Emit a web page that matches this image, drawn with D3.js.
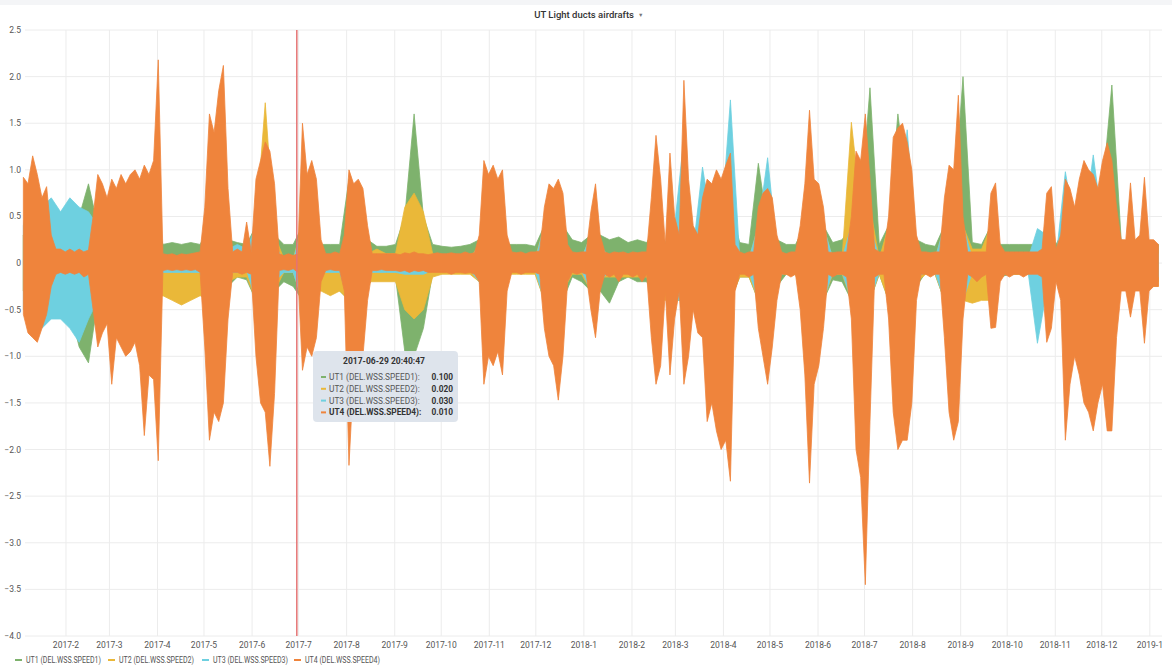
<!DOCTYPE html>
<html>
<head>
<meta charset="utf-8">
<script src="https://cdn.jsdelivr.net/npm/d3@7"></script>
<style>
  body { margin: 0; background: #fff; }
  svg { display: block; font-family: Roboto, "Helvetica Neue", Arial, sans-serif; }
</style>
</head>
<body>
<svg id="chart"></svg>
<script>
// panel title and series names
const title = "UT Light ducts airdrafts";
const seriesNames = ["UT1 (DEL.WSS.SPEED1)", "UT2 (DEL.WSS.SPEED2)", "UT3 (DEL.WSS.SPEED3)", "UT4 (DEL.WSS.SPEED4)"];
const seriesColors = ["#7eb26d", "#eab839", "#6ed0e0", "#ef843c"];
const yTicks = [2.5, 2.0, 1.5, 1.0, 0.5, 0, -0.5, -1.0, -1.5, -2.0, -2.5, -3.0, -3.5, -4.0];

// hover point
const hoverTime = "2017-06-29 20:40:47";
const hoverValues = [0.100, 0.020, 0.030, 0.010];

// UT4: max / min of each 3 day bucket, first bucket 2017-01-04
const ut4Hi = [
  0.92,0.85,1.15,0.95,0.7,0.82,0.3,0.15,0.15,0.12,
  0.15,0.12,0.15,0.12,0.14,0.5,0.95,0.85,0.7,0.9,
  0.8,0.95,0.85,0.95,1.0,0.9,1.05,0.95,1.1,2.18,
  0.1,0.09,0.1,0.08,0.1,0.09,0.1,0.11,0.12,0.6,
  1.6,1.4,1.85,2.12,0.8,0.12,0.15,0.12,0.44,0.12,
  0.9,1.1,1.3,1.2,0.85,0.1,0.08,0.1,0.08,0.1,
  1.5,0.95,1.1,0.9,0.25,0.1,0.1,0.12,0.1,0.3,
  1.0,0.85,0.9,0.8,0.4,0.1,0.1,0.1,0.1,0.1,
  0.1,0.09,0.11,0.1,0.12,0.1,0.1,0.09,0.1,0.11,
  0.1,0.1,0.11,0.1,0.1,0.12,0.1,0.11,0.3,1.1,
  0.95,1.05,0.9,1.0,0.3,0.12,0.11,0.12,0.1,0.12,
  0.12,0.13,0.6,0.85,0.8,0.9,0.75,0.2,0.12,0.11,
  0.12,0.12,0.55,0.85,0.3,0.12,0.1,0.12,0.11,0.12,
  0.1,0.12,0.11,0.12,0.12,0.7,1.37,0.9,0.2,1.18,
  0.5,0.3,1.96,0.9,0.4,0.3,0.7,0.9,0.85,1.0,
  0.9,1.05,1.18,0.2,0.12,0.1,0.12,0.12,0.6,0.75,
  0.8,0.7,0.3,0.12,0.1,0.12,0.12,0.4,0.85,1.64,
  0.9,0.85,0.6,0.12,0.11,0.12,0.12,0.12,0.5,1.2,
  1.1,1.6,0.9,0.15,0.12,0.12,0.5,1.35,1.45,1.5,
  1.3,1.0,0.3,0.12,0.12,0.11,0.12,0.12,0.7,1.05,
  1.0,1.8,0.5,0.12,0.12,0.12,0.12,0.12,0.75,0.86,
  0.2,0.12,0.12,0.12,0.12,0.12,0.12,0.12,0.12,0.15,
  0.75,0.82,0.15,0.3,0.9,0.8,0.6,0.9,1.1,1.0,
  0.95,0.8,1.1,1.29,1.1,0.6,0.25,0.25,0.86,0.25,
  0.3,0.92,0.25,0.25,0.2
];
const ut4Lo = [
  -0.55,-0.75,-0.8,-0.85,-0.7,-0.55,-0.25,-0.12,-0.1,-0.12,
  -0.1,-0.12,-0.1,-0.15,-0.12,-0.5,-0.9,-0.75,-0.65,-1.3,
  -0.8,-0.9,-1.0,-0.95,-0.85,-1.1,-1.85,-1.2,-1.25,-2.12,
  -0.08,-0.07,-0.08,-0.07,-0.08,-0.07,-0.08,-0.07,-0.1,-0.9,
  -1.9,-1.6,-1.7,-1.5,-0.6,-0.1,-0.1,-0.12,-0.1,-0.12,
  -1.0,-1.5,-1.6,-2.18,-1.4,-0.08,-0.07,-0.08,-0.06,-0.1,
  -1.15,-0.9,-1.0,-0.8,-0.2,-0.08,-0.07,-0.08,-0.08,-0.3,
  -2.17,-1.2,-1.1,-1.0,-0.4,-0.08,-0.08,-0.07,-0.08,-0.08,
  -0.08,-0.09,-0.08,-0.1,-0.08,-0.09,-0.08,-0.1,-0.1,-0.1,
  -0.1,-0.1,-0.12,-0.1,-0.1,-0.11,-0.1,-0.12,-0.2,-1.3,
  -1.0,-1.1,-0.95,-1.2,-0.3,-0.1,-0.1,-0.12,-0.1,-0.1,
  -0.1,-0.12,-0.7,-1.0,-1.1,-1.47,-1.0,-0.2,-0.1,-0.12,
  -0.1,-0.12,-0.5,-0.8,-0.3,-0.12,-0.15,-0.12,-0.2,-0.12,
  -0.12,-0.15,-0.12,-0.2,-0.12,-0.8,-1.3,-1.1,-0.3,-1.2,
  -0.6,-0.3,-1.3,-1.0,-0.5,-0.75,-0.8,-1.7,-1.5,-1.8,
  -2.0,-1.9,-2.34,-0.3,-0.12,-0.12,-0.15,-0.12,-0.7,-1.0,
  -1.3,-0.9,-0.4,-0.12,-0.12,-0.15,-0.12,-0.5,-1.2,-2.36,
  -1.3,-1.1,-0.7,-0.12,-0.15,-0.12,-0.12,-0.15,-0.6,-2.0,
  -2.3,-3.45,-1.7,-0.15,-0.12,-0.12,-0.6,-1.6,-2.0,-1.9,
  -1.9,-1.5,-0.4,-0.12,-0.12,-0.15,-0.12,-0.12,-0.8,-1.6,
  -1.9,-1.7,-0.6,-0.12,-0.15,-0.2,-0.15,-0.12,-0.7,-0.69,
  -0.2,-0.12,-0.15,-0.12,-0.12,-0.15,-0.12,-0.12,-0.12,-0.15,
  -0.85,-0.7,-0.2,-0.4,-1.9,-1.3,-1.0,-1.2,-1.5,-1.6,
  -1.8,-1.5,-1.3,-1.8,-1.8,-0.8,-0.3,-0.3,-0.58,-0.3,
  -0.3,-0.86,-0.3,-0.25,-0.25
];

// UT1..UT3: max / min of each 6 day bucket, first bucket 2017-01-04
const ut1Hi = [
  0.3,0.5,0.4,0.25,0.3,0.35,0.5,0.85,0.4,0.4,
  0.4,0.4,0.4,0.4,0.6,0.2,0.22,0.2,0.22,0.2,
  0.4,0.4,0.25,0.22,0.2,0.4,0.9,0.3,0.2,0.2,
  0.4,0.4,0.2,0.2,0.2,0.9,0.6,0.25,0.18,0.18,
  0.2,0.5,1.6,0.5,0.2,0.18,0.17,0.18,0.2,0.25,
  0.4,0.4,0.2,0.2,0.2,0.18,0.4,0.4,0.4,0.25,
  0.22,0.3,0.3,0.25,0.28,0.22,0.25,0.22,0.4,0.22,
  0.4,0.4,0.25,0.4,0.4,0.4,0.6,0.22,0.2,1.07,
  0.4,0.25,0.2,0.2,0.4,0.4,0.4,0.22,0.25,0.4,
  0.6,1.88,0.2,0.4,1.6,0.8,0.25,0.2,0.18,0.4,
  0.6,2.0,0.22,0.2,0.4,0.2,0.2,0.2,0.2,0.2,
  0.4,0.2,0.4,0.4,0.6,0.6,0.8,1.91,0.25,0.22,
  0.22,0.2,0.2
];
const ut1Lo = [
  -0.3,-0.4,-0.4,-0.3,-0.4,-0.5,-0.9,-1.07,-0.4,-0.4,
  -0.4,-0.4,-0.4,-0.4,-0.4,-0.05,-0.05,-0.05,-0.05,-0.1,
  -0.4,-0.4,-0.25,-0.15,-0.18,-0.4,-0.4,-0.3,-0.2,-0.25,
  -0.4,-0.4,-0.1,-0.25,-0.3,-0.4,-0.4,-0.25,-0.1,-0.1,
  -0.15,-0.95,-1.0,-0.7,-0.1,-0.08,-0.08,-0.08,-0.08,-0.2,
  -0.4,-0.4,-0.1,-0.1,-0.1,-0.1,-0.4,-0.4,-0.4,-0.15,
  -0.2,-0.3,-0.3,-0.43,-0.2,-0.15,-0.2,-0.2,-0.4,-0.2,
  -0.4,-0.4,-0.25,-0.4,-0.4,-0.4,-0.4,-0.15,-0.15,-0.4,
  -0.4,-0.25,-0.12,-0.12,-0.4,-0.4,-0.4,-0.18,-0.2,-0.4,
  -0.4,-0.4,-0.12,-0.4,-0.4,-0.4,-0.25,-0.1,-0.12,-0.4,
  -0.4,-0.4,-0.15,-0.12,-0.4,-0.15,-0.12,-0.12,-0.12,-0.12,
  -0.4,-0.15,-0.4,-0.4,-0.4,-0.4,-0.4,-0.4,-0.25,-0.2,
  -0.2,-0.2,-0.2
];
const ut2Hi = [
  0.3,0.4,0.3,0.2,0.4,0.45,0.3,0.35,0.4,0.4,
  0.4,0.4,0.4,0.4,0.4,0.05,0.05,0.05,0.05,0.05,
  0.4,0.4,0.1,0.05,0.05,0.4,1.72,0.3,0.05,0.05,
  0.4,0.3,0.05,0.05,0.05,0.4,0.4,0.1,0.15,0.1,
  0.1,0.6,0.75,0.55,0.1,0.05,0.05,0.05,0.05,0.2,
  0.4,0.4,0.05,0.05,0.05,0.05,0.4,0.4,0.3,0.05,
  0.05,0.3,0.05,0.05,0.05,0.05,0.05,0.05,0.4,0.1,
  0.4,0.4,0.15,0.4,0.4,0.4,0.4,0.05,0.05,0.4,
  0.4,0.05,0.05,0.05,0.4,0.4,0.4,0.05,0.05,1.51,
  0.6,0.6,0.05,0.4,0.4,0.4,0.15,0.05,0.05,0.4,
  0.4,0.4,0.15,0.15,0.4,0.05,0.05,0.05,0.05,0.05,
  0.3,0.05,0.6,0.4,0.4,0.4,0.4,0.4,0.15,0.1,
  0.1,0.1,0.1
];
const ut2Lo = [
  -0.3,-0.4,-0.3,-0.2,-0.3,-0.3,-0.4,-0.5,-0.4,-0.4,
  -0.4,-0.4,-0.4,-0.4,-0.4,-0.35,-0.4,-0.45,-0.4,-0.35,
  -0.4,-0.4,-0.2,-0.15,-0.15,-0.4,-0.5,-0.3,-0.1,-0.1,
  -0.4,-0.3,-0.3,-0.35,-0.3,-0.4,-0.4,-0.2,-0.2,-0.2,
  -0.2,-0.5,-0.6,-0.5,-0.15,-0.12,-0.12,-0.12,-0.12,-0.2,
  -0.4,-0.4,-0.12,-0.12,-0.12,-0.12,-0.4,-0.4,-0.3,-0.12,
  -0.12,-0.3,-0.15,-0.15,-0.15,-0.15,-0.15,-0.15,-0.4,-0.4,
  -0.4,-0.4,-0.25,-0.4,-0.4,-0.4,-0.4,-0.15,-0.15,-0.4,
  -0.4,-0.12,-0.12,-0.12,-0.4,-0.4,-0.4,-0.12,-0.12,-0.4,
  -0.4,-0.4,-0.12,-0.4,-0.4,-0.4,-0.2,-0.12,-0.12,-0.4,
  -0.4,-0.4,-0.43,-0.4,-0.4,-0.12,-0.12,-0.12,-0.12,-0.12,
  -0.3,-0.15,-0.4,-0.4,-0.4,-0.4,-0.4,-0.4,-0.2,-0.25,
  -0.25,-0.25,-0.25
];
const ut3Hi = [
  0.4,0.97,0.6,0.7,0.55,0.7,0.6,0.55,0.4,0.4,
  0.4,0.4,0.4,0.4,0.4,0.03,0.03,0.03,0.03,0.03,
  0.4,0.4,0.15,0.2,0.15,0.4,0.4,0.2,0.03,0.03,
  0.4,0.3,0.03,0.03,0.03,0.4,0.4,0.03,0.03,0.03,
  0.03,0.05,0.05,0.05,0.03,0.03,0.03,0.03,0.03,0.2,
  0.4,0.4,0.03,0.03,0.03,0.03,0.4,0.4,0.3,0.05,
  0.05,0.3,0.2,0.05,0.05,0.05,0.05,0.05,0.4,0.05,
  0.4,1.34,0.15,1.03,0.4,0.4,1.75,0.05,0.05,0.4,
  1.13,0.15,0.05,0.05,0.4,0.4,0.4,0.05,0.05,0.4,
  0.4,0.4,0.05,0.05,0.4,1.43,0.15,0.05,0.05,0.4,
  0.4,0.4,0.05,0.05,0.05,0.05,0.05,0.05,0.05,0.37,
  0.3,0.05,0.98,0.4,0.4,1.16,0.4,0.4,0.1,0.1,
  0.1,0.1,0.1
];
const ut3Lo = [
  -0.5,-0.5,-0.7,-0.6,-0.6,-0.7,-0.85,-0.6,-0.4,-0.4,
  -0.4,-0.4,-0.4,-0.4,-0.4,-0.1,-0.1,-0.1,-0.1,-0.1,
  -0.4,-0.4,-0.1,-0.1,-0.08,-0.4,-0.4,-0.2,-0.1,-0.1,
  -0.4,-0.3,-0.1,-0.1,-0.1,-0.4,-0.4,-0.1,-0.1,-0.1,
  -0.1,-0.12,-0.12,-0.12,-0.08,-0.08,-0.08,-0.08,-0.08,-0.2,
  -0.4,-0.4,-0.08,-0.08,-0.08,-0.08,-0.4,-0.4,-0.3,-0.08,
  -0.08,-0.3,-0.2,-0.08,-0.08,-0.08,-0.08,-0.08,-0.4,-0.1,
  -0.4,-0.4,-0.15,-0.4,-0.4,-0.4,-0.4,-0.1,-0.1,-0.4,
  -0.4,-0.15,-0.1,-0.1,-0.4,-0.4,-0.4,-0.1,-0.1,-0.4,
  -0.4,-0.4,-0.1,-0.1,-0.4,-0.4,-0.15,-0.1,-0.1,-0.4,
  -0.4,-0.4,-0.1,-0.1,-0.1,-0.1,-0.1,-0.1,-0.1,-0.86,
  -0.3,-0.1,-0.4,-0.4,-0.4,-0.4,-0.4,-0.4,-0.15,-0.15,
  -0.15,-0.15,-0.15
];

const width = 1172, height = 665;
const margin = { top: 30, right: 10, bottom: 29, left: 24 };

const svg = d3.select("#chart").attr("width", width).attr("height", height);

const firstBucket = new Date(2017, 0, 4, 12);
const x = d3.scaleTime()
  .domain([new Date(2017, 0, 4, 22), new Date(2019, 0, 8, 20)])
  .range([margin.left, width - margin.right]);
const y = d3.scaleLinear()
  .domain([-4, 2.5])
  .range([height - margin.bottom, margin.top]);

// faint header strip
svg.append("rect").attr("x", 0).attr("y", 0).attr("width", width).attr("height", 5).attr("fill", "#f4f5f7");

svg.append("text")
  .attr("x", 634).attr("y", 18)
  .attr("text-anchor", "end")
  .attr("font-size", 9.5).attr("font-weight", 500).attr("fill", "#333")
  .text(title);
svg.append("text")
  .attr("x", 638).attr("y", 17)
  .attr("font-size", 5.5).attr("fill", "#777")
  .text("\u25BC");

// grid
const grid = svg.append("g");
grid.selectAll(".hg").data(yTicks).join("line")
  .attr("x1", margin.left + 1).attr("x2", width - margin.right)
  .attr("y1", d => y(d)).attr("y2", d => y(d))
  .attr("stroke", "#ececec").attr("stroke-width", 1);
const months = x.ticks(d3.timeMonth.every(1));
grid.selectAll(".vg").data(months).join("line")
  .attr("x1", d => x(d)).attr("x2", d => x(d))
  .attr("y1", y(2.5)).attr("y2", y(-4))
  .attr("stroke", "#ececec").attr("stroke-width", 1);

// y labels
svg.append("g").selectAll("text").data(yTicks).join("text")
  .attr("x", 21).attr("y", d => y(d) + 3)
  .attr("text-anchor", "end")
  .attr("font-size", 8.5).attr("fill", "#555")
  .text(d => d === 0 ? "0" : d3.format(".1f")(d));

// x labels
const fmt = d3.timeFormat("%Y-%-m");
svg.append("g").selectAll("text").data(months).join("text")
  .attr("x", d => x(d)).attr("y", 648)
  .attr("text-anchor", "middle")
  .attr("font-size", 8.5).attr("fill", "#555")
  .text(d => fmt(d));

// series
function buckets(hi, lo, days) {
  return hi.map((h, k) => ({ t: d3.timeDay.offset(firstBucket, days * k), hi: h, lo: lo[k] }));
}
const series = [
  buckets(ut1Hi, ut1Lo, 6),
  buckets(ut2Hi, ut2Lo, 6),
  buckets(ut3Hi, ut3Lo, 6),
  buckets(ut4Hi, ut4Lo, 3)
];
const area = d3.area()
  .x(d => x(d.t))
  .y0(d => y(d.lo))
  .y1(d => y(d.hi));

const plot = svg.append("g");
series.forEach((s, k) => {
  plot.append("path")
    .attr("d", area(s))
    .attr("fill", seriesColors[k])
    .attr("stroke", seriesColors[k])
    .attr("stroke-width", 0.8)
    .attr("stroke-linejoin", "miter");
});

// hover line
const hoverDate = d3.timeParse("%Y-%m-%d %H:%M:%S")(hoverTime);
svg.append("line")
  .attr("x1", x(hoverDate)).attr("x2", x(hoverDate))
  .attr("y1", y(2.5)).attr("y2", y(-4))
  .attr("stroke", "#e57373").attr("stroke-width", 1.5);

// tooltip
const tip = svg.append("g").attr("transform", "translate(313,351)");
tip.append("rect").attr("width", 145).attr("height", 71).attr("rx", 4)
  .attr("fill", "#dde3eb").attr("fill-opacity", 0.97);
tip.append("text").attr("x", 71).attr("y", 13)
  .attr("text-anchor", "middle").attr("font-size", 8.5).attr("font-weight", 700).attr("fill", "#333")
  .text(hoverTime);
seriesNames.forEach((n, k) => {
  const row = tip.append("g").attr("transform", `translate(0, ${29 + k * 11.8})`);
  const bold = k === 3 ? 700 : 400;
  row.append("line").attr("x1", 8).attr("x2", 13).attr("y1", -3).attr("y2", -3)
    .attr("stroke", seriesColors[k]).attr("stroke-width", 2);
  row.append("text").attr("x", 16).attr("font-size", 8.3).attr("font-weight", bold).attr("fill", k === 3 ? "#333" : "#555")
    .text(n + ":");
  row.append("text").attr("x", 140).attr("text-anchor", "end").attr("font-size", 8.3).attr("font-weight", 700).attr("fill", "#333")
    .text(d3.format(".3f")(hoverValues[k]));
});

// legend
const legendX = [15, 108, 202, 294];
const legend = svg.append("g").attr("transform", "translate(0,660)");
seriesNames.forEach((n, k) => {
  legend.append("line").attr("x1", legendX[k]).attr("x2", legendX[k] + 7).attr("y1", 0).attr("y2", 0)
    .attr("stroke", seriesColors[k]).attr("stroke-width", 2);
  legend.append("text").attr("x", legendX[k] + 11).attr("y", 3)
    .attr("font-size", 8.8).attr("fill", "#555")
    .attr("textLength", 75).attr("lengthAdjust", "spacingAndGlyphs")
    .text(n);
});
</script>
</body>
</html>
